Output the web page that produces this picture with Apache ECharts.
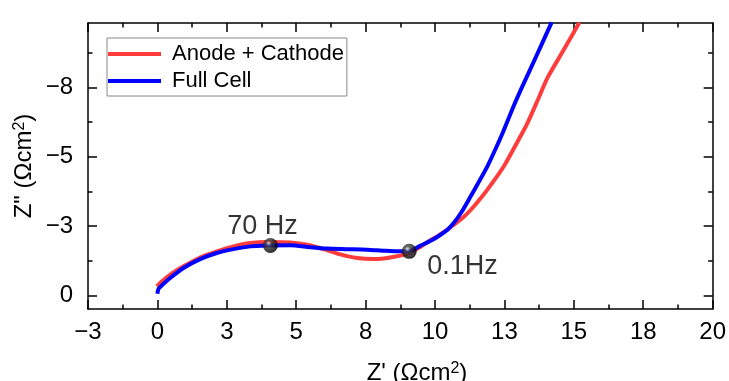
<!DOCTYPE html>
<html><head><meta charset="utf-8">
<script src="https://cdn.jsdelivr.net/npm/echarts@6/dist/echarts.min.js"></script>
<style>html,body{margin:0;padding:0;background:#fff}#c{width:729px;height:381px}</style>
</head><body><div id="c"></div>
<script>
const seriesNames = ['Anode + Cathode', 'Full Cell'];
const redX = [-0.02, 0.10, 0.46, 0.94, 1.54, 2.14, 2.74, 3.34, 4.00, 4.79, 5.40, 5.99, 6.59, 7.19, 7.79, 8.39, 9.00, 9.48, 9.80, 10.08, 10.32, 10.68, 11.00, 11.30, 11.60, 11.88, 12.20, 12.48, 13.00, 13.33, 13.70, 14.05, 14.60, 15.20];
const redY = [-0.33, -0.45, -0.75, -1.05, -1.37, -1.59, -1.77, -1.89, -1.93, -1.91, -1.83, -1.67, -1.48, -1.35, -1.31, -1.37, -1.51, -1.76, -1.97, -2.13, -2.29, -2.55, -2.80, -3.10, -3.45, -3.81, -4.25, -4.66, -5.60, -6.22, -7.05, -7.85, -8.80, -9.85];
const blueX = [0.00, 0.04, 0.20, 0.46, 0.94, 1.54, 2.14, 2.74, 3.34, 4.00, 4.79, 5.50, 6.11, 6.80, 7.55, 8.20, 8.70, 9.07, 9.48, 9.84, 10.20, 10.44, 10.68, 10.95, 11.28, 11.58, 11.88, 12.15, 12.45, 12.84, 13.15, 13.45, 13.80, 14.20];
const blueY = [-0.06, -0.24, -0.40, -0.63, -0.99, -1.31, -1.53, -1.67, -1.77, -1.80, -1.81, -1.74, -1.69, -1.67, -1.65, -1.61, -1.59, -1.59, -1.80, -1.97, -2.19, -2.36, -2.62, -3.00, -3.57, -4.10, -4.65, -5.22, -5.90, -6.85, -7.55, -8.20, -8.97, -9.85];
const markerX = [4.07, 9.07];
const markerY = [-1.80, -1.59];
const markerLabels = ['70 Hz', '0.1Hz'];
const xTickValues = [-2.5, 0, 2.5, 5, 7.5, 10, 12.5, 15, 17.5, 20];
const xTickLabels = ['\u22123', '0', '3', '5', '8', '10', '13', '15', '18', '20'];
const yTickValues = [0, -2.5, -5, -7.5];
const yTickLabels = ['0', '\u22123', '\u22125', '\u22128'];
const yMinorValues = [-1.25, -3.75, -6.25, -8.75];

const FONT = 'Liberation Sans, Arial, sans-serif';
const zip = (xs, ys) => xs.map((x, i) => [x, ys[i]]);
const AX = {onZero: false, lineStyle: {color: '#000', width: 1.5}};
const NOLINE = {show: false, onZero: false};
const TICK = {color: '#000', width: 1.5};
const chart = echarts.init(document.getElementById('c'), null, {renderer: 'canvas'});

const xCommon = {type: 'value', min: -2.5, max: 20, interval: 2.5, splitLine: {show: false}};
const yCommon = {type: 'value', inverse: true, min: -9.83, max: 0.49, splitLine: {show: false}};
const titleRich = {n: {fontSize: 24, fontFamily: FONT, lineHeight: 24}, s: {fontSize: 16, fontFamily: FONT, verticalAlign: 'top', lineHeight: 10}};

chart.setOption({
  animation: false,
  backgroundColor: '#fff',
  grid: {left: 88, right: 16, top: 23, bottom: 72, containLabel: false},
  legend: {
    left: 107, top: 38, orient: 'vertical', padding: [5, 3, 4, 1], itemGap: 5,
    itemWidth: 53, itemHeight: 4, icon: 'rect', borderColor: '#888', borderWidth: 1,
    textStyle: {fontSize: 22, fontFamily: FONT, color: '#000', padding: [0, 0, 0, 6]},
    data: seriesNames
  },
  xAxis: [
    Object.assign({}, xCommon, {position: 'bottom', axisLine: AX,
      axisTick: {inside: true, length: 9, lineStyle: TICK},
      minorTick: {show: true, splitNumber: 2, length: 4.5, lineStyle: TICK},
      axisLabel: {margin: 11, fontSize: 24, fontFamily: FONT, color: '#000',
        formatter: v => { const i = xTickValues.findIndex(t => Math.abs(t - v) < 1e-6); return i >= 0 ? xTickLabels[i] : ''; }}}),
    Object.assign({}, xCommon, {position: 'top', axisLine: AX,
      axisTick: {inside: true, length: 9, lineStyle: TICK},
      minorTick: {show: true, splitNumber: 2, length: 4.5, lineStyle: TICK},
      axisLabel: {show: false}})
  ],
  yAxis: [
    Object.assign({}, yCommon, {position: 'left', axisLine: AX,
      axisTick: {inside: true, length: 9, customValues: yTickValues, lineStyle: TICK},
      axisLabel: {margin: 15, fontSize: 24, fontFamily: FONT, color: '#000', customValues: yTickValues,
        formatter: v => { const i = yTickValues.findIndex(t => Math.abs(t - v) < 1e-6); return i >= 0 ? yTickLabels[i] : ''; }}}),
    Object.assign({}, yCommon, {position: 'left', axisLine: NOLINE,
      axisTick: {inside: true, length: 4.5, customValues: yMinorValues, lineStyle: TICK},
      axisLabel: {show: false}}),
    Object.assign({}, yCommon, {position: 'right', axisLine: AX,
      axisTick: {inside: true, length: 9, customValues: yTickValues, lineStyle: TICK},
      axisLabel: {show: false}}),
    Object.assign({}, yCommon, {position: 'right', axisLine: NOLINE,
      axisTick: {inside: true, length: 4.5, customValues: yMinorValues, lineStyle: TICK},
      axisLabel: {show: false}})
  ],
  series: [
    {name: seriesNames[0], type: 'line', data: zip(redX, redY), symbol: 'none', smooth: 0.25, clip: true,
      lineStyle: {color: '#ff3c3c', width: 4}, itemStyle: {color: '#ff3c3c'}, z: 2},
    {name: seriesNames[1], type: 'line', data: zip(blueX, blueY), symbol: 'none', smooth: 0.25, clip: true,
      lineStyle: {color: '#0000ff', width: 4}, itemStyle: {color: '#0000ff'}, z: 3},
    {name: 'markers', type: 'scatter', symbolSize: 15, z: 5,
      itemStyle: {color: new echarts.graphic.RadialGradient(0.38, 0.35, 0.6, [
        {offset: 0, color: '#f0f0f0'}, {offset: 0.3, color: '#444'}, {offset: 1, color: '#000'}])},
      data: markerX.map((x, i) => ({
        value: [x, markerY[i]],
        label: {show: true, formatter: markerLabels[i], fontSize: 27, fontFamily: FONT, color: '#000',
          textBorderWidth: 0, align: i === 0 ? 'center' : 'left', verticalAlign: 'middle',
          position: i === 0 ? [-0.5, -11.5] : [25.5, 22.5]}
      }))}
  ],
  graphic: [
    {type: 'text', x: 417, y: 373, silent: true,
      style: {text: "{n|Z' (\u03A9cm}{s|2}{n|)}", align: 'center', verticalAlign: 'middle', fill: '#000', rich: titleRich}},
    {type: 'text', x: 24, y: 166, rotation: Math.PI / 2, silent: true,
      style: {text: "{n|Z\" (\u03A9cm}{s|2}{n|)}", align: 'center', verticalAlign: 'middle', fill: '#000', rich: titleRich}}
  ]
});
</script></body></html>
